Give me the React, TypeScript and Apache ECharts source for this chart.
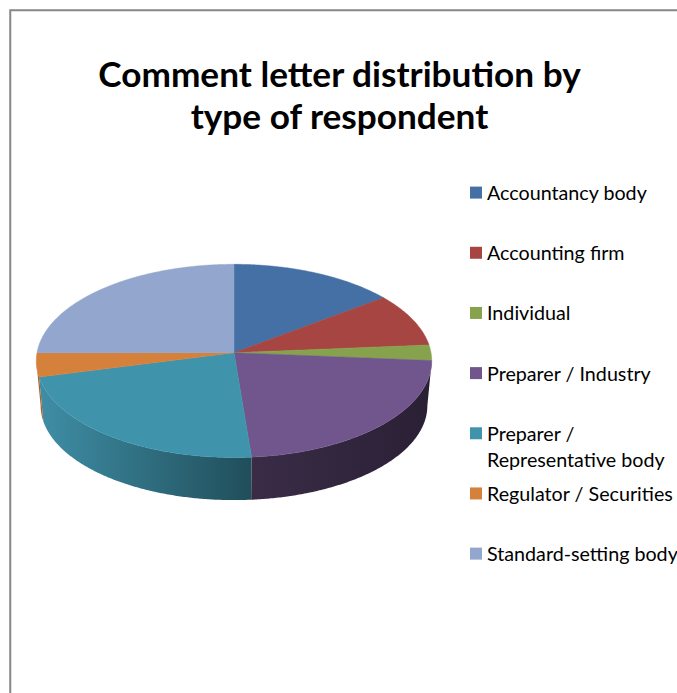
import React, { useEffect, useRef } from "react";
import * as echarts from "echarts";

const titleText = "Comment letter distribution by\ntype of respondent";
const categories = [
  "Accountancy body",
  "Accounting firm",
  "Individual",
  "Preparer / Industry",
  "Preparer / Representative body",
  "Regulator / Securities",
  "Standard-setting body",
];
// Share of comment letters per respondent type, in percent.
const shares = [14.7, 9.0, 2.6, 22.4, 22.3, 4.0, 25.0];
const topColors = ["#4470A5", "#A64541", "#87A24C", "#70568C", "#3F94AC", "#D6813B", "#92A6CE"];
// Left and right shade of the visible outer wall of each slice.
const wallShades = [
  ["#2A4466", "#2A4466"],
  ["#662A28", "#662A28"],
  ["#52632E", "#52632E"],
  ["#3A2C47", "#2A2035"],
  ["#3F8EA6", "#204E5A"],
  ["#A8602A", "#A8602A"],
  ["#5A6680", "#5A6680"],
];

// Projection of the tilted disc: a circle seen in perspective.
const CX = 234;
const CY = 352.7;
const SEMI_X = 197;
const SEMI_Y = 95.9;
const TILT = 0.085;
const BOTTOM_CY = 397.6;
const BOTTOM_SCALE = 0.978;

const total = shares.reduce((a, b) => a + b, 0);
const toRad = (deg: number) => (deg * Math.PI) / 180;

function rim(deg: number, lower = false): number[] {
  const t = toRad(deg);
  const w = 1 + TILT * Math.cos(t);
  const dx = (SEMI_X * Math.sin(t)) / w;
  const dy = (-SEMI_Y * Math.cos(t)) / w;
  return lower
    ? [CX + dx * BOTTOM_SCALE, BOTTOM_CY + dy * BOTTOM_SCALE]
    : [CX + dx, CY + dy];
}

function arc(from: number, to: number, lower = false): number[][] {
  const pts: number[][] = [];
  const steps = Math.max(2, Math.ceil((to - from) * 2));
  for (let i = 0; i <= steps; i++) pts.push(rim(from + ((to - from) * i) / steps, lower));
  return pts;
}

// Part of the rim that faces the viewer, clockwise from twelve o'clock.
const FRONT_FROM = (Math.acos(-TILT) * 180) / Math.PI;
const FRONT_TO = 360 - FRONT_FROM;

function sliceSeries(name: string, index: number) {
  return {
    type: "custom",
    name,
    coordinateSystem: "none",
    data: [[shares[index]]],
    itemStyle: { color: topColors[index] },
    renderItem: (_params: unknown, api: any) => {
      const before = shares.slice(0, index).reduce((a, b) => a + b, 0);
      const start = (before / total) * 360;
      const end = start + (api.value(0) / total) * 360;
      const children: any[] = [];
      const wallFrom = Math.max(start, FRONT_FROM);
      const wallTo = Math.min(end, FRONT_TO);
      if (wallTo > wallFrom) {
        const upper = arc(wallFrom, wallTo);
        const lower = arc(wallFrom, wallTo, true).reverse();
        const xs = upper.map((p) => p[0]);
        const x0 = Math.min(...xs);
        const x1 = Math.max(...xs);
        const [shadeLeft, shadeRight] = wallShades[index];
        const fill = new echarts.graphic.LinearGradient(
          x0, 0, x1, 0,
          [
            { offset: 0, color: shadeLeft },
            { offset: 1, color: shadeRight },
          ],
          true
        );
        children.push({
          type: "polygon",
          shape: { points: upper.concat(lower) },
          style: { fill, stroke: null },
        });
      }
      children.push({
        type: "polygon",
        shape: { points: [[CX, CY], ...arc(start, end)] },
        style: { fill: topColors[index], stroke: topColors[index], lineWidth: 0.5 },
      });
      return { type: "group", children };
    },
  };
}

const legendLabel = (name: string) =>
  name === "Preparer / Representative body" ? " \nPreparer /\nRepresentative body" : name;

function legendEntry(name: string, index: number) {
  const middle = 192.6 + 60.17 * index;
  const lines = legendLabel(name).split("\n").length;
  return {
    data: [{ name, icon: "rect" }],
    left: 470,
    top: middle - (26 * lines) / 2,
    orient: "vertical",
    padding: 0,
    itemWidth: 12,
    itemHeight: 12,
    itemGap: 0,
    selectedMode: false,
    formatter: legendLabel,
    textStyle: {
      fontFamily: "Lato",
      fontSize: 19.7,
      lineHeight: 26,
      color: "#000",
      padding: [0, 0, 0, 0],
    },
  };
}

export default function App() {
  const ref = useRef<HTMLDivElement>(null);
  useEffect(() => {
    const chart = echarts.init(ref.current!, undefined, { renderer: "svg" });
    chart.setOption({
      animation: false,
      backgroundColor: "#fff",
      title: {
        text: titleText,
        left: 339.5,
        top: 52,
        padding: 0,
        textAlign: "center",
        textStyle: {
          fontFamily: "Lato",
          fontSize: 35.2,
          fontWeight: "bold",
          lineHeight: 42,
          color: "#000",
          align: "center",
        },
      },
      legend: categories.map(legendEntry),
      series: categories.map(sliceSeries),
      graphic: [
        {
          type: "polyline",
          silent: true,
          shape: { points: [[10.25, 720], [10.25, 10.25], [700, 10.25]] },
          style: { fill: null, stroke: "#868686", lineWidth: 2 },
        },
      ],
    });
    return () => chart.dispose();
  }, []);
  return (
    <div
      ref={ref}
      style={{ position: "absolute", left: 0, top: 0, width: 677, height: 693 }}
    />
  );
}
